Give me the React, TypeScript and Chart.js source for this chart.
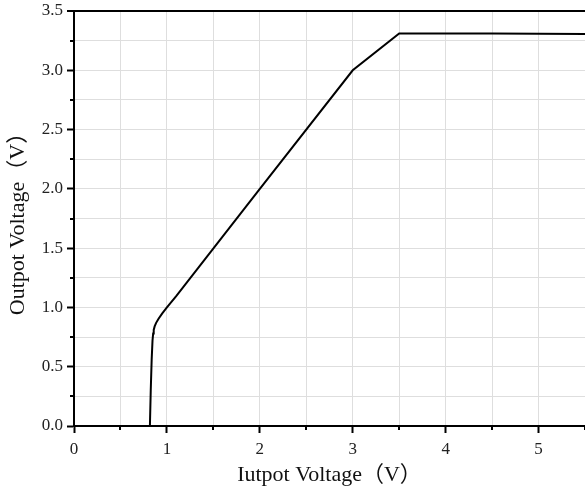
import React, { useEffect, useRef } from "react";
import { Chart, registerables } from "chart.js";

Chart.register(...registerables);

const inputVoltage = [0.817, 0.826, 0.836, 0.845, 0.852, 0.858, 0.868, 0.884, 0.91, 0.95, 1.0, 1.1, 2.0, 3.0, 3.5, 4.5, 5.5];
const outputVoltage = [0.0, 0.3, 0.56, 0.72, 0.78, 0.81, 0.84, 0.87, 0.905, 0.95, 1.0, 1.095, 2.0, 3.0, 3.31, 3.31, 3.305];
const xTickLabels = ["0", "1", "2", "3", "4", "5"];
const yTickLabels = ["0.0", "0.5", "1.0", "1.5", "2.0", "2.5", "3.0", "3.5"];

const SERIF = "'Liberation Serif', 'Times New Roman', 'Noto Sans CJK SC', serif";

const minorTicks = {
  id: "minorTicks",
  afterDraw(chart: any) {
    const ctx = chart.ctx;
    const xs = chart.scales.x;
    const ys = chart.scales.y;
    ctx.save();
    ctx.strokeStyle = "#000";
    ctx.lineWidth = 2;
    ctx.beginPath();
    for (let v = 0.5; v < 5.6; v += 1) {
      const px = Math.round(xs.getPixelForValue(v));
      ctx.moveTo(px, xs.top);
      ctx.lineTo(px, xs.top + 4);
    }
    for (let v = 0.25; v < 3.5; v += 0.5) {
      const py = Math.round(ys.getPixelForValue(v));
      ctx.moveTo(ys.right, py);
      ctx.lineTo(ys.right - 4, py);
    }
    ctx.stroke();
    ctx.restore();
  },
};

export default function App() {
  const ref = useRef<HTMLCanvasElement>(null);
  useEffect(() => {
    document.body.style.margin = "0";
    const chart = new Chart(ref.current!, {
      type: "line",
      data: {
        datasets: [
          {
            data: inputVoltage.map((x, i) => ({ x, y: outputVoltage[i] })),
            borderColor: "#000",
            borderWidth: 2,
            pointRadius: 0,
            tension: 0,
            fill: false,
          },
        ],
      },
      options: {
        animation: false,
        responsive: false,
        layout: { padding: { top: 11, right: 0, left: 0, bottom: 0 } },
        plugins: { legend: { display: false }, tooltip: { enabled: false } },
        scales: {
          x: {
            type: "linear",
            min: 0,
            max: 5.5,
            afterFit: (s: any) => { s.height = 62; s.paddingRight = 0; s.paddingLeft = 0; },
            border: { display: true, color: "#000", width: 2 },
            grid: {
              color: "#dedede",
              lineWidth: 1,
              tickLength: 7,
              tickWidth: 2,
              tickColor: (c: any) => (c.tick && Number.isInteger(c.tick.value) ? "#000" : "rgba(0,0,0,0)"),
            },
            ticks: {
              stepSize: 0.5,
              autoSkip: false,
              maxRotation: 0,
              color: "#222",
              padding: 6,
              font: { family: SERIF, size: 17 },
              callback: (v: any) => {
                const n = Number(v);
                return Number.isInteger(n) ? xTickLabels[n] : "";
              },
            },
            title: {
              display: true,
              text: "Iutpot Voltage（V）",
              color: "#111",
              font: { family: SERIF, size: 22 },
              padding: { top: 0, bottom: 0 },
            },
          },
          y: {
            type: "linear",
            min: 0,
            max: 3.5,
            afterFit: (s: any) => { s.width = 74; s.paddingTop = 0; s.paddingBottom = 0; },
            border: { display: true, color: "#000", width: 2 },
            grid: {
              color: (c: any) => (c.tick && Math.abs(c.tick.value - 3.5) < 1e-6 ? "#000" : "#dedede"),
              lineWidth: (c: any) => (c.tick && Math.abs(c.tick.value - 3.5) < 1e-6 ? 2 : 1),
              tickLength: 7,
              tickWidth: 2,
              tickColor: (c: any) => (c.tick && Math.abs((c.tick.value * 2) - Math.round(c.tick.value * 2)) < 1e-6 ? "#000" : "rgba(0,0,0,0)"),
            },
            ticks: {
              stepSize: 0.25,
              autoSkip: false,
              color: "#222",
              padding: 4,
              font: { family: SERIF, size: 17 },
              callback: (v: any) => {
                const n = Number(v) * 2;
                return Math.abs(n - Math.round(n)) < 1e-6 ? yTickLabels[Math.round(n)] : "";
              },
            },
            title: {
              display: true,
              text: "Outpot Voltage（V）",
              color: "#111",
              font: { family: SERIF, size: 22 },
              padding: { top: 5, bottom: 0 },
            },
          },
        },
      },
      plugins: [minorTicks],
    });
    return () => chart.destroy();
  }, []);
  return (
    <div style={{ position: "absolute", left: 0, top: 0, width: 585, height: 488, background: "#fff" }}>
      <canvas ref={ref} width={585} height={488} style={{ width: 585, height: 488 }} />
    </div>
  );
}
